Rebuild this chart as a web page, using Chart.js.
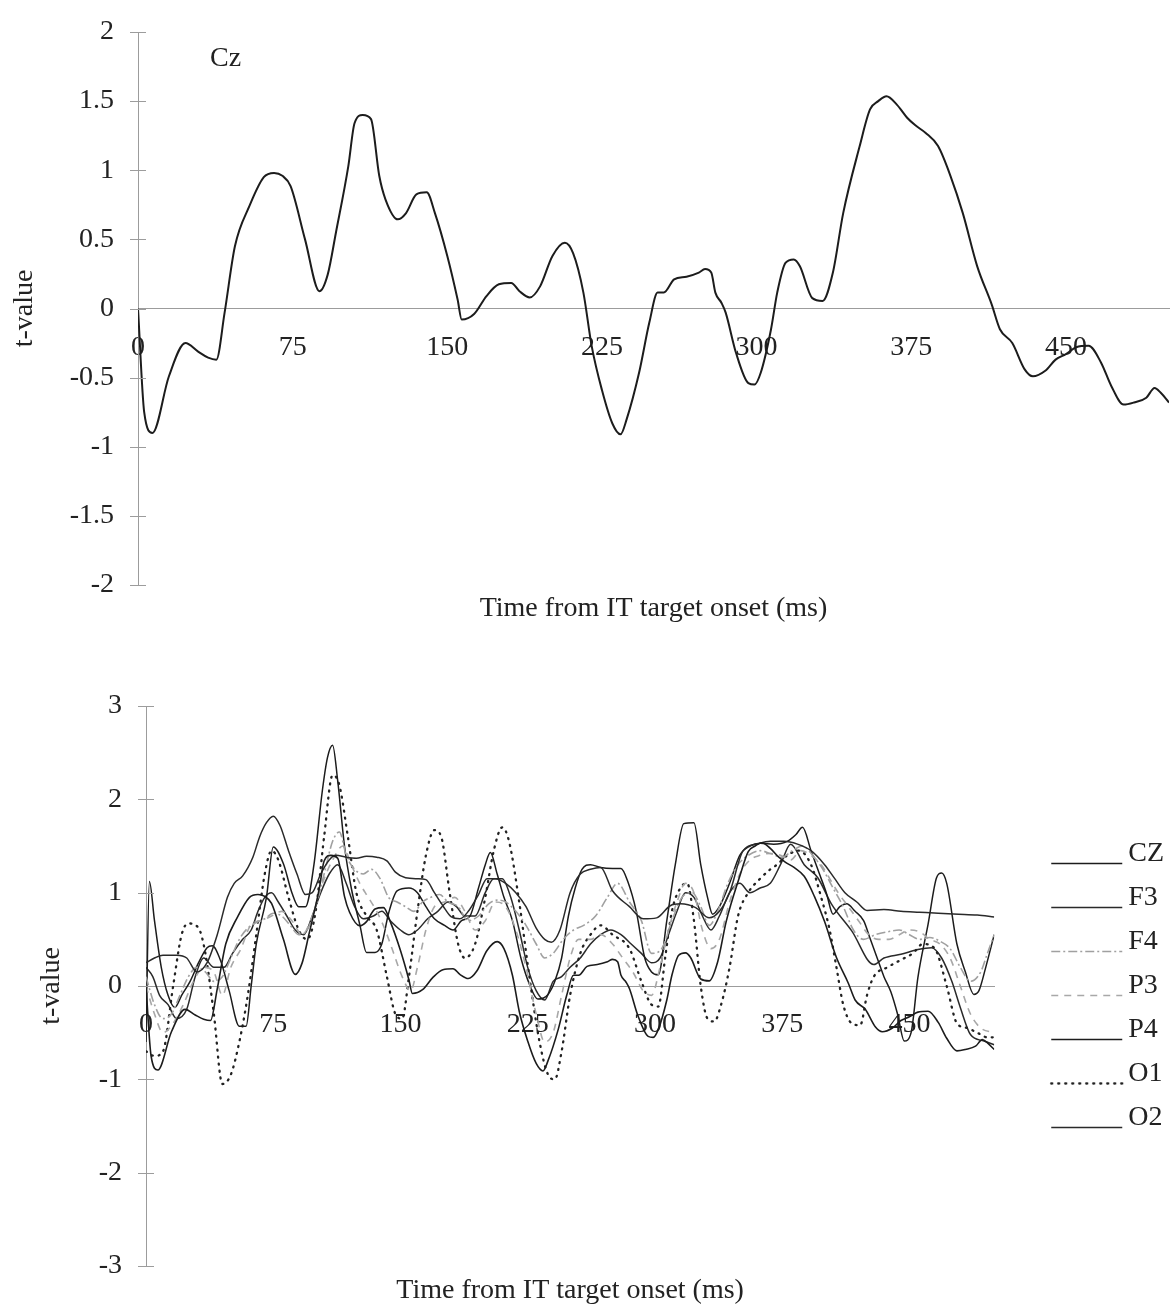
<!DOCTYPE html>
<html>
<head>
<meta charset="utf-8">
<script src="https://cdn.jsdelivr.net/npm/chart.js@4"></script>
<style>
  html, body { margin: 0; padding: 0; background: #fff; }
  #wrap { position: relative; width: 1174px; height: 1309px; }
  canvas { position: absolute; left: 0; }
  #czChart { top: 0; }
  #allChart { top: 640px; }
</style>
</head>
<body>
<div id="wrap">
  <canvas id="czChart" width="1174" height="625"></canvas>
  <canvas id="allChart" width="1174" height="669"></canvas>
</div>
<script>
// ---- data: time (ms) and t-values for each electrode ----
const TIME_TICKS = [0, 75, 150, 225, 300, 375, 450];
const Y_TICKS_TOP = [-2, -1.5, -1, -0.5, 0, 0.5, 1, 1.5, 2];
const Y_TICKS_BOTTOM = [-3, -2, -1, 0, 1, 2, 3];
const X_TITLE = 'Time from IT target onset (ms)';
const Y_TITLE = 't-value';

const CZ_T = [0,3,7,15,23,29,34,38,42,47,54,61,66,70,74,81,88,92,96,102,105,109,113,117,120,126,130,135,140,144,150,155,157,163,169,175,181,185,190,195,201,207,211,216,220,225,230,234,237,243,248,252,255,260,266,272,275,278,280,283,285,290,296,299,302,307,310,314,318,321,327,332,337,342,350,355,359,363,368,373,377,382,388,394,400,407,414,418,424,430,434,440,445,450,455,461,467,472,478,483,489,493,496,500];
const CZ_V = [0,-0.75,-0.9,-0.49,-0.25,-0.31,-0.355,-0.37,-0.03,0.45,0.74,0.95,0.98,0.96,0.885,0.5,0.125,0.245,0.55,1.03,1.34,1.40,1.37,0.96,0.79,0.645,0.69,0.825,0.84,0.69,0.38,0.065,-0.08,-0.04,0.09,0.175,0.185,0.125,0.08,0.16,0.38,0.475,0.40,0.115,-0.27,-0.59,-0.83,-0.91,-0.80,-0.465,-0.10,0.115,0.115,0.21,0.23,0.26,0.285,0.26,0.115,0.04,-0.03,-0.32,-0.54,-0.55,-0.465,-0.15,0.115,0.33,0.355,0.305,0.075,0.055,0.26,0.69,1.175,1.44,1.50,1.535,1.475,1.38,1.325,1.27,1.175,0.96,0.69,0.305,0.03,-0.15,-0.25,-0.44,-0.49,-0.45,-0.37,-0.33,-0.28,-0.27,-0.39,-0.56,-0.695,-0.68,-0.645,-0.575,-0.61,-0.68];

const F3_T = [0,5,10,18,24,30,36,42,48,52,57,63,67,71,75,79,84,89,94,98,103,108,112,118,124,130,136,142,147,153,160,165,170,175,180,185,190,196,201,206,212,218,224,230,235,239,244,250,256,262,268,275,285,293,301,309,315,324,332,338,344,352,360,368,376,384,392,400,406,412,419,425,435,445,456,467,479,490,500];
const F3_V = [0.25,0.3,0.33,0.33,0.3,0.15,0.25,0.55,0.95,1.1,1.18,1.38,1.6,1.75,1.82,1.72,1.45,1.2,0.98,1.0,1.2,1.35,1.4,1.38,1.37,1.39,1.38,1.34,1.22,1.16,1.15,1.14,1.0,0.86,0.74,0.72,0.8,0.98,1.15,1.15,1.1,1.0,0.85,0.62,0.5,0.47,0.6,1.0,1.2,1.25,1.27,1.02,0.85,0.72,0.73,0.86,0.88,0.84,0.73,0.8,1.0,1.45,1.52,1.55,1.55,1.52,1.45,1.3,1.15,1.0,0.9,0.81,0.82,0.8,0.79,0.78,0.77,0.76,0.74];

const F4_T = [0,5,10,15,20,25,30,35,40,45,50,55,60,65,70,75,80,85,90,95,100,105,110,114,118,123,128,133,138,143,148,153,158,163,168,173,178,184,190,196,202,207,212,218,224,230,235,240,246,252,258,265,272,278,285,292,298,304,310,316,322,327,332,337,343,349,355,362,368,375,381,387,393,399,405,411,417,423,430,437,444,450,456,462,468,474,480,486,492,496,500];
const F4_V = [0.1,-0.2,-0.35,-0.3,-0.1,0.1,0.2,0.15,0.05,0.1,0.3,0.5,0.62,0.68,0.72,0.78,0.75,0.65,0.55,0.6,0.85,1.2,1.55,1.65,1.4,1.25,1.2,1.25,1.15,0.95,0.9,0.85,0.8,0.9,0.95,0.98,0.9,0.85,0.7,0.75,0.88,0.92,0.9,0.8,0.65,0.45,0.3,0.35,0.5,0.6,0.65,0.75,0.95,1.1,0.9,0.7,0.35,0.4,0.7,0.95,1.0,0.85,0.65,0.8,1.1,1.3,1.4,1.45,1.42,1.38,1.45,1.5,1.4,1.25,1.05,0.85,0.6,0.5,0.55,0.58,0.6,0.55,0.5,0.52,0.48,0.4,0.2,0.05,0.15,0.35,0.55];

const P3_T = [0,5,10,16,22,28,34,40,45,50,56,62,68,74,80,86,92,98,104,110,116,121,126,131,136,141,146,151,156,160,165,170,176,182,188,194,200,206,212,218,224,230,235,240,245,250,255,262,268,275,281,287,293,298,303,308,313,318,323,328,333,338,344,350,356,362,368,374,380,386,392,398,403,408,414,420,426,432,438,444,450,456,462,468,474,480,486,492,500];
const P3_V = [0.0,-0.3,-0.5,-0.4,-0.2,0.05,0.2,0.15,-0.1,0.2,0.4,0.66,0.7,0.75,0.8,0.7,0.55,0.75,1.1,1.35,1.5,1.3,1.1,0.95,0.8,0.6,0.35,0.1,-0.05,0.2,0.6,0.85,0.9,0.95,0.8,0.6,0.7,0.9,0.85,0.6,0.2,-0.3,-0.6,-0.5,-0.1,0.3,0.5,0.5,0.55,0.45,0.3,0.15,-0.05,-0.1,0.2,0.6,0.9,1.1,1.0,0.6,0.4,0.5,0.9,1.2,1.35,1.4,1.42,1.4,1.35,1.45,1.4,1.3,1.15,1.0,0.85,0.7,0.55,0.5,0.5,0.55,0.6,0.58,0.5,0.45,0.3,0.0,-0.3,-0.45,-0.5];

const P4_T = [0,2,5,9,13,17,21,26,31,36,39,44,49,55,59,62,65,71,75,81,86,90,94,99,104,107,110,113,117,121,126,130,135,139,143,148,155,160,165,170,176,181,186,191,196,200,203,207,211,216,221,226,231,237,241,245,249,253,257,262,268,275,280,284,289,294,298,302,307,312,317,323,327,331,334,338,344,350,356,362,370,378,383,387,392,397,401,405,409,413,418,423,427,431,435,439,443,447,451,455,461,466,469,472,478,483,488,491,495,500];
const P4_V = [-0.6,1.12,0.7,0.2,-0.1,-0.23,-0.1,0.05,0.25,0.41,0.43,0.27,-0.05,-0.43,-0.43,0.0,0.45,0.95,1.49,1.31,1.0,0.85,0.85,1.3,2.1,2.45,2.58,2.2,1.5,1.05,0.66,0.36,0.36,0.45,0.78,1.02,1.05,1.0,0.85,0.72,0.65,0.6,0.7,0.75,1.05,1.3,1.43,1.2,0.95,0.7,0.3,0.02,-0.14,-0.09,0.05,0.3,0.75,1.05,1.25,1.3,1.27,1.26,1.26,1.12,0.8,0.3,0.15,0.12,0.7,1.3,1.74,1.75,1.3,0.95,0.77,0.85,1.1,1.4,1.5,1.53,1.52,1.55,1.62,1.70,1.45,1.2,1.0,0.77,0.85,0.88,0.8,0.7,0.5,0.3,0.1,-0.06,-0.3,-0.59,-0.5,0.09,0.66,1.16,1.21,1.1,0.45,0.15,-0.09,-0.05,0.2,0.55];

const O1_T = [0,5,10,16,21,25,31,35,40,45,50,55,60,65,70,74,78,84,90,95,100,105,110,114,119,124,130,136,142,147,151,155,160,165,170,174,179,184,188,194,200,205,210,214,220,226,232,237,241,245,250,256,262,268,275,285,292,298,302,306,310,315,319,323,327,331,335,339,344,349,355,362,368,372,378,385,392,398,403,407,411,416,421,425,429,437,445,452,458,465,472,478,484,490,496,500];
const O1_V = [-0.7,-0.75,-0.7,0.0,0.55,0.67,0.62,0.35,-0.3,-1.05,-0.95,-0.6,-0.1,0.55,1.2,1.45,1.35,0.95,0.6,0.5,0.8,1.6,2.26,2.15,1.6,1.0,0.75,0.6,0.1,-0.3,-0.35,0.1,0.8,1.4,1.67,1.6,1.0,0.45,0.3,0.45,0.95,1.45,1.7,1.55,0.9,0.1,-0.6,-0.95,-1.0,-0.7,-0.1,0.35,0.55,0.65,0.55,0.4,0.05,-0.2,-0.22,0.3,0.8,1.05,1.1,0.7,0.0,-0.35,-0.38,-0.2,0.2,0.75,1.0,1.15,1.25,1.3,1.4,1.45,1.3,0.95,0.6,0.2,-0.2,-0.4,-0.42,-0.1,0.1,0.2,0.28,0.35,0.45,0.4,0.0,-0.4,-0.45,-0.5,-0.55,-0.55];

const O2_T = [0,4,8,13,18,24,29,34,40,46,51,57,62,66,70,74,78,83,88,93,98,103,108,113,118,123,128,134,139,144,150,155,160,166,172,178,183,188,194,200,205,210,215,220,225,230,235,240,245,250,256,262,268,274,280,286,292,298,303,308,313,318,323,328,333,338,344,350,356,362,368,374,380,388,396,404,416,429,435,445,455,463,469,475,480,486,494,500];
const O2_V = [0.2,0.1,-0.1,-0.2,-0.35,-0.25,0.1,0.3,0.2,0.2,0.35,0.5,0.6,0.8,0.95,1.0,0.9,0.75,0.6,0.55,0.75,1.0,1.2,1.3,1.1,0.85,0.72,0.75,0.8,0.7,0.6,0.55,0.6,0.72,0.8,0.9,0.85,0.75,0.75,1.0,1.15,1.15,0.95,0.6,0.2,-0.05,-0.15,0.05,0.1,0.2,0.3,0.45,0.55,0.6,0.55,0.45,0.35,0.25,0.3,0.55,0.8,1.0,0.95,0.75,0.6,0.75,1.0,1.1,1.0,1.05,1.1,1.3,1.52,1.3,1.16,0.88,0.59,0.23,0.3,0.34,0.39,0.41,0.3,0.05,-0.23,-0.52,-0.59,-0.63];

// ---- styling ----
const FONT_FAMILY = '"Liberation Serif", "Times New Roman", serif';
const FONT = { family: FONT_FAMILY, size: 28 };
const INK = '#222222';
const AXIS = '#9c9c9c';

function pairs(ts, vs) { return ts.map((t, i) => ({ x: t, y: vs[i] })); }

// Legend swatch: a line sitting on the text baseline, drawn with the series dash.
function swatch(color, dash, width) {
  const c = document.createElement('canvas');
  c.width = 150; c.height = 40;
  const g = c.getContext('2d');
  g.strokeStyle = color; g.lineWidth = width; g.setLineDash(dash);
  g.lineCap = dash.length && dash[0] <= 1 ? 'round' : 'butt';
  g.beginPath(); g.moveTo(64, 29.5); g.lineTo(135, 29.5); g.stroke();
  return c;
}

// Short tick marks crossing the value axis on both sides.
const crossTicks = {
  id: 'crossTicks',
  afterDraw(chart) {
    const s = chart.scales.y, ctx = chart.ctx, x0 = s.right;
    ctx.save();
    ctx.strokeStyle = AXIS; ctx.lineWidth = 1;
    s.ticks.forEach(t => {
      const py = Math.round(s.getPixelForValue(t.value)) + 0.5;
      ctx.beginPath(); ctx.moveTo(x0 - 8, py); ctx.lineTo(x0 + 8, py); ctx.stroke();
    });
    ctx.restore();
  }
};

// Electrode name written inside the plot.
const cornerLabel = {
  id: 'cornerLabel',
  afterDraw(chart, args, opts) {
    if (!opts || !opts.text) return;
    const ctx = chart.ctx, a = chart.chartArea;
    ctx.save();
    ctx.font = `${FONT.size}px ${FONT_FAMILY}`;
    ctx.fillStyle = INK; ctx.textAlign = 'left'; ctx.textBaseline = 'middle';
    ctx.fillText(opts.text, a.left + opts.dx, a.top + opts.dy);
    ctx.restore();
  }
};

function scalesFor(yTicks, yMin, yMax, yWidth, titlePad, titleBoxH) {
  return {
    x: {
      type: 'linear', min: 0, max: 500,
      position: { y: 0 },
      afterBuildTicks: s => { s.ticks = TIME_TICKS.map(v => ({ value: v })); },
      afterFit: s => { s.paddingTop = 0; s.paddingBottom = 0; },
      ticks: { font: FONT, color: INK, padding: 22, maxRotation: 0, autoSkip: false,
               callback: v => String(v) },
      grid: { display: false, drawTicks: false },
      border: { display: true, color: AXIS, width: 1 }
    },
    x2: {
      type: 'linear', axis: 'x', position: 'bottom', min: 0, max: 500,
      ticks: { display: false },
      grid: { display: false, drawTicks: false },
      border: { display: false },
      title: { display: true, text: X_TITLE, font: FONT, color: INK, padding: 0 },
      afterFit: s => { s.height = titleBoxH; s.paddingTop = 0; s.paddingBottom = 0; }
    },
    y: {
      type: 'linear', min: yMin, max: yMax,
      afterBuildTicks: s => { s.ticks = yTicks.map(v => ({ value: v })); },
      ticks: { font: FONT, color: INK, padding: 24, callback: v => String(v) },
      grid: { display: false, drawTicks: false },
      border: { display: true, color: AXIS, width: 1 },
      title: { display: true, text: Y_TITLE, font: FONT, color: INK, padding: { top: titlePad, bottom: 0 } },
      afterFit: s => { s.width = yWidth; s.paddingTop = 0; s.paddingBottom = 0; }
    }
  };
}

const lineBase = { showLine: true, pointRadius: 0, fill: false, cubicInterpolationMode: 'monotone', xAxisID: 'x', yAxisID: 'y' };

// ---- upper panel: Cz ----
new Chart(document.getElementById('czChart'), {
  type: 'scatter',
  data: { datasets: [
    Object.assign({ label: 'Cz', data: pairs(CZ_T, CZ_V), borderColor: '#1c1c1c', borderWidth: 2 }, lineBase)
  ] },
  options: {
    responsive: false, animation: false, events: [],
    layout: { padding: { left: 0, right: 5, top: 32, bottom: 0 } },
    scales: scalesFor(Y_TICKS_TOP, -2, 2, 138, 8, 40),
    plugins: { legend: { display: false }, tooltip: { enabled: false },
               cornerLabel: { text: 'Cz', dx: 72, dy: 27 } }
  },
  plugins: [crossTicks, cornerLabel]
});

// ---- lower panel: all electrodes ----
const SERIES = [
  { label: 'CZ', t: CZ_T, v: CZ_V, color: '#1c1c1c', dash: [],           width: 1.6 },
  { label: 'F3', t: F3_T, v: F3_V, color: '#2a2a2a', dash: [],           width: 1.5 },
  { label: 'F4', t: F4_T, v: F4_V, color: '#a0a0a0', dash: [9, 3, 2, 3], width: 1.6 },
  { label: 'P3', t: P3_T, v: P3_V, color: '#a8a8a8', dash: [7, 6],       width: 1.6 },
  { label: 'P4', t: P4_T, v: P4_V, color: '#1c1c1c', dash: [],           width: 1.5 },
  { label: 'O1', t: O1_T, v: O1_V, color: '#222222', dash: [1, 6],       width: 2.3 },
  { label: 'O2', t: O2_T, v: O2_V, color: '#2a2a2a', dash: [],           width: 1.5 }
];

new Chart(document.getElementById('allChart'), {
  type: 'scatter',
  data: { datasets: SERIES.map(s => Object.assign({
    label: s.label, data: pairs(s.t, s.v),
    borderColor: s.color, borderWidth: s.width, borderDash: s.dash,
    borderCapStyle: s.dash.length && s.dash[0] <= 1 ? 'round' : 'butt',
    pointStyle: swatch(s.color, s.dash, s.width)
  }, lineBase)) },
  options: {
    responsive: false, animation: false, events: [],
    layout: { padding: { left: 0, right: 0, top: 66, bottom: 2 } },
    scales: scalesFor(Y_TICKS_BOTTOM, -3, 3, 146, 35, 41),
    plugins: {
      tooltip: { enabled: false },
      legend: {
        display: true, position: 'right', align: 'center', fullSize: false,
        labels: { usePointStyle: true, pointStyleWidth: 104, padding: 16,
                  font: FONT, color: INK }
      }
    }
  },
  plugins: [crossTicks]
});
</script>
</body>
</html>
